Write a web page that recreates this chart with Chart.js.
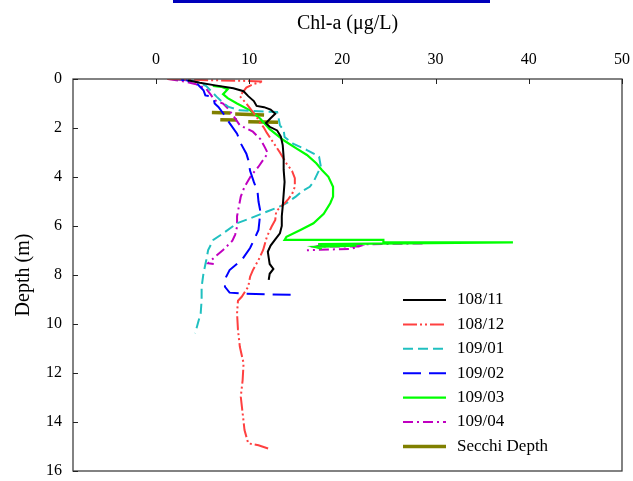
<!DOCTYPE html>
<html><head><meta charset="utf-8">
<script src="https://cdn.jsdelivr.net/npm/chart.js@4"></script>
<style>
html,body{margin:0;padding:0;background:#fff;}
#wrap{position:relative;width:633px;height:481px;overflow:hidden;background:#fff;}
#bar{position:absolute;left:173px;top:0;width:317px;height:3px;background:#0000bb;}
#frag{position:absolute;left:-6px;top:50px;font:16px "Liberation Serif";color:#2a5aa0;}
canvas{position:absolute;left:0;top:0;}
</style></head><body>
<div id="wrap"><canvas id="c" width="633" height="481"></canvas><div id="bar"></div><div id="frag">)</div></div>
<script>
// ---- data ----
const seriesNames = ['108/11','108/12','109/01','109/02','109/03','109/04','Secchi Depth'];
const xTicks = [0,10,20,30,40,50];
const yTicks = [0,2,4,6,8,10,12,14,16];

const depth_10811 = [0.05,0.15,0.25,0.38,0.5,0.7,0.9,1.1,1.15,1.25,1.42,1.6,1.8,1.95,2.1,2.35,2.7,3.2,3.7,4.2,4.7,5.2,5.6,6.0,6.3,6.55,6.8,7.05,7.3,7.55,7.75,7.95,8.2];
const chla_10811  = [3.4,4.7,6.2,8.3,9.4,9.9,10.5,10.8,11.6,12.3,12.8,12.3,11.8,12.2,13.0,13.4,13.6,13.7,13.7,13.8,13.7,13.6,13.5,13.5,13.3,12.8,12.3,12.0,12.1,12.2,12.6,12.2,12.1];

const depth_10812 = [0.0,0.03,0.05,0.07,0.1,0.2,0.35,0.55,0.7,1.0,1.3,1.55,1.8,2.0,2.2,2.6,3.0,3.45,3.75,4.05,4.4,4.7,4.9,5.07,5.25,5.4,5.75,6.03,6.44,6.98,7.39,7.8,8.07,8.48,8.89,9.05,9.56,10.24,10.93,11.6,12.29,12.97,13.64,14.33,14.87,14.95,15.1];
const chla_10812  = [1.2,3.5,6.0,9.0,11.5,10.5,9.7,9.3,9.0,9.7,10.3,10.8,11.2,11.6,11.9,12.6,13.3,14.0,14.6,14.9,14.9,14.6,14.2,13.8,13.3,12.9,12.8,12.4,11.9,11.5,11.0,10.4,10.1,9.9,9.2,8.8,8.7,8.8,9.0,9.4,9.3,9.1,9.3,9.5,9.9,11.0,12.2];

const depth_10901 = [0.05,0.1,0.29,0.72,0.97,1.14,1.28,1.35,1.48,1.89,2.08,2.37,2.64,2.9,3.17,3.6,3.8,4.2,4.4,4.55,4.8,5.07,5.17,5.4,5.69,5.89,6.3,6.57,6.98,7.39,7.93,8.48,9.02,9.56,9.97,10.38];
const chla_10901  = [3.5,4.4,5.4,6.5,7.2,7.8,9.0,13.0,13.1,13.3,13.7,13.8,14.7,16.2,17.5,17.7,17.4,16.9,16.5,15.8,15.0,14.0,13.5,12.0,10.1,8.7,7.2,6.15,5.6,5.4,5.1,4.9,4.9,4.8,4.5,4.2];

const depth_10902 = [0.0,0.05,0.19,0.46,0.67,0.73,1.0,1.14,1.45,1.8,2.23,2.63,3.05,3.3,3.75,4.2,4.6,5.0,5.4,5.8,6.16,6.5,6.9,7.39,7.8,8.1,8.48,8.72,8.77,8.79,8.81];
const chla_10902  = [1.7,3.3,4.4,5.1,5.3,6.15,6.3,6.7,7.3,7.9,8.7,9.1,9.7,9.9,10.1,10.5,10.9,11.0,11.2,11.1,11.0,10.6,10.1,9.2,7.9,7.5,7.4,7.9,9.7,11.9,14.7];

const depth_10903 = [0.28,0.32,0.42,0.62,0.78,1.0,1.28,1.62,2.05,2.5,2.84,3.1,3.44,3.71,3.99,4.4,4.8,5.07,5.5,5.89,6.16,6.44,6.57,6.57,6.66,6.67,6.74,6.8,6.85,6.93];
const chla_10903  = [6.1,7.0,7.7,7.2,7.7,8.7,10.1,11.2,12.2,13.7,15.1,16.2,17.2,17.8,18.5,19.0,19.0,18.7,18.0,16.9,15.5,14.0,13.8,24.4,24.4,38.3,17.4,21.5,17.0,17.8];

const depth_10904 = [0.0,0.07,0.2,0.4,0.65,0.87,1.0,1.15,1.5,1.89,2.15,2.45,2.8,3.03,3.58,3.95,4.4,4.8,5.2,5.6,6.03,6.35,6.6,6.98,7.2,7.45,7.52,7.55,null,6.71,6.75,6.79,6.84,6.83,6.93,6.99];
const chla_10904  = [1.3,2.6,4.2,5.4,5.9,6.3,7.2,7.6,8.3,9.0,10.4,11.2,11.7,12.0,11.0,10.2,9.5,9.1,8.9,8.7,8.7,8.5,8.2,7.2,6.5,5.8,5.6,6.2,null,28.6,21.5,17.6,17.2,21.8,21.0,16.2];

const depth_secchi = [1.37,1.39,null,1.43,1.47,null,1.66,1.67,null,1.74,1.77];
const chla_secchi  = [6.0,8.0,null,8.5,11.6,null,6.9,8.7,null,9.9,13.1];

function pts(xs, ys){ return xs.map((v,i)=>({x: v, y: ys[i]})); }

const styles = [
  {c:'#000000', dash:[], w:2},
  {c:'#ff4040', dash:[14,3,2,3,2,3], w:2},
  {c:'#20c0c0', dash:[10,5], w:2},
  {c:'#0000ff', dash:[18,8], w:2},
  {c:'#00ff00', dash:[], w:2.2},
  {c:'#c000c0', dash:[10,4,2,4], w:2},
  {c:'#808000', dash:[], w:3.5}
];
const dataPairs = [
  [chla_10811, depth_10811],[chla_10812, depth_10812],[chla_10901, depth_10901],
  [chla_10902, depth_10902],[chla_10903, depth_10903],[chla_10904, depth_10904],
  [chla_secchi, depth_secchi]
];
const datasets = dataPairs.map((p,i)=>({
  label: seriesNames[i], data: pts(p[0], p[1]), showLine: true, pointRadius: 0,
  borderColor: styles[i].c, backgroundColor: styles[i].c, borderDash: styles[i].dash,
  borderWidth: styles[i].w, fill: false, tension: 0, spanGaps: false
}));

const FONT = '"Liberation Serif", "Times New Roman", serif';

const framePlugin = {
  id: 'frame',
  afterDatasetsDraw(chart){
    const {ctx, chartArea: a, scales} = chart;
    ctx.save();
    ctx.strokeStyle = '#404040'; ctx.lineWidth = 1.3; ctx.setLineDash([]);
    ctx.strokeRect(a.left, a.top, a.right - a.left, a.bottom - a.top);
    ctx.lineWidth = 1; ctx.strokeStyle = '#222';
    xTicks.forEach(v=>{ const px = Math.round(scales.x.getPixelForValue(v))+0.5;
      ctx.beginPath(); ctx.moveTo(px, a.top); ctx.lineTo(px, a.top+5); ctx.stroke(); });
    yTicks.forEach(v=>{ const py = Math.round(scales.y.getPixelForValue(v))+0.5;
      ctx.beginPath(); ctx.moveTo(a.left, py); ctx.lineTo(a.left+5, py); ctx.stroke(); });
    // legend
    ctx.font = '17px ' + FONT; ctx.fillStyle = '#000'; ctx.textBaseline = 'middle'; ctx.textAlign = 'left';
    chart.data.datasets.forEach((ds,i)=>{
      const y = 300 + i*24.4;
      ctx.strokeStyle = ds.borderColor; ctx.lineWidth = ds.borderWidth; ctx.setLineDash(ds.borderDash);
      ctx.beginPath(); ctx.moveTo(403, y); ctx.lineTo(446, y); ctx.stroke();
      ctx.setLineDash([]);
      ctx.fillText(ds.label, 457, y);
    });
    ctx.restore();
  }
};

function noPad(s){ s.paddingLeft = 0; s.paddingRight = 0; s.paddingTop = 0; s.paddingBottom = 0; }

new Chart(document.getElementById('c'), {
  type: 'scatter',
  data: { datasets },
  options: {
    responsive: false, animation: false, events: [],
    layout: { padding: { left: 0, top: 0, right: 11, bottom: 10 } },
    plugins: { legend: { display: false }, tooltip: { enabled: false } },
    scales: {
      x: {
        type: 'linear', position: 'top', min: -8.9, max: 50,
        afterBuildTicks: s => { s.ticks = xTicks.map(v=>({value: v})); },
        afterFit: s => { s.height = 79; noPad(s); },
        grid: { display: false, drawTicks: false }, border: { display: false },
        ticks: { color: '#000', font: { family: FONT, size: 16 }, padding: 10, maxRotation: 0, autoSkip: false },
        title: { display: true, text: 'Chl-a (\u03bcg/L)', color: '#000', font: { family: FONT, size: 20 }, padding: { top: 12, bottom: 0 } }
      },
      y: {
        type: 'linear', reverse: true, min: 0, max: 16,
        afterBuildTicks: s => { s.ticks = yTicks.map(v=>({value: v})); },
        afterFit: s => { s.width = 73; noPad(s); },
        grid: { display: false, drawTicks: false }, border: { display: false },
        ticks: { color: '#000', font: { family: FONT, size: 16 }, padding: 11, autoSkip: false },
        title: { display: true, text: 'Depth (m)', color: '#000', font: { family: FONT, size: 20 }, padding: { top: 12, bottom: 0 } }
      }
    }
  },
  plugins: [framePlugin]
});
</script>
</body></html>
